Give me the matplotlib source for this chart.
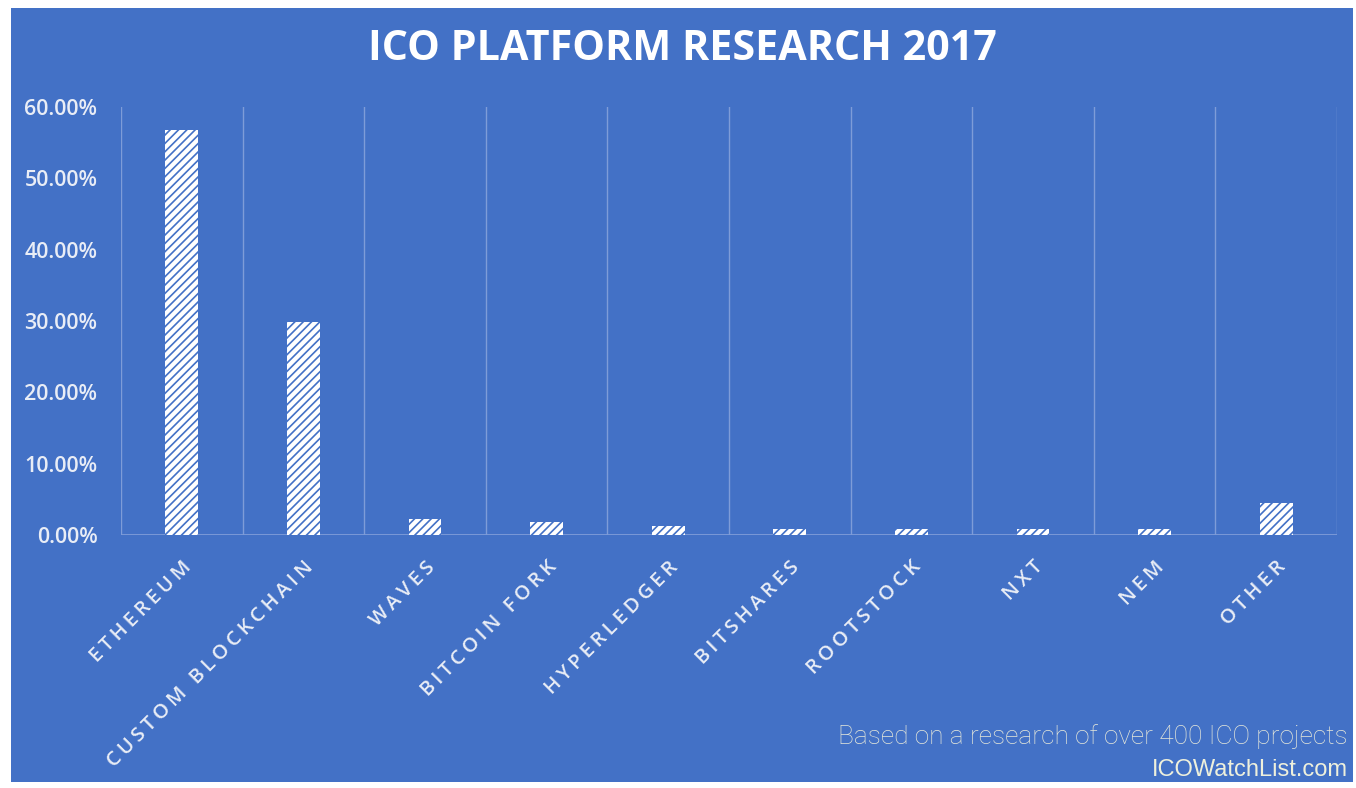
# ICO platform research bar chart, hatched white bars on blue panel

import matplotlib.pyplot as plt
import numpy as np
from matplotlib.patches import Rectangle
from matplotlib.ticker import PercentFormatter

platforms = ['ETHEREUM', 'CUSTOM BLOCKCHAIN', 'WAVES', 'BITCOIN FORK', 'HYPERLEDGER',
             'BITSHARES', 'ROOTSTOCK', 'NXT', 'NEM', 'OTHER']
share = [56.8, 29.9, 2.2, 1.8, 1.3, 0.8, 0.8, 0.8, 0.8, 4.5]
yticks = [0, 10, 20, 30, 40, 50, 60]

blue = '#4371C6'
grid_col = '#7E9CD8'
txt_col = '#E9EDF6'

plt.rcParams['hatch.color'] = blue
plt.rcParams['hatch.linewidth'] = 1.2

fig = plt.figure(figsize=(13.56, 7.88), dpi=100, facecolor='white')
fig.patches.append(Rectangle((11 / 1356, 6 / 788), 1342 / 1356, 774 / 788,
                             transform=fig.transFigure, facecolor=blue, edgecolor='none', zorder=0))

ax = fig.add_axes([121 / 1356, 1 - 535 / 788, (1337 - 121) / 1356, (535 - 107) / 788])
ax.set_facecolor('none')
ax.set_zorder(2)

x = np.arange(len(platforms))
ax.bar(x, share, width=0.27, color='white', edgecolor=blue, linewidth=0, hatch='////', zorder=3)

ax.set_xlim(-0.5, len(platforms) - 0.5)
ax.set_ylim(0, 60)
ax.set_yticks(yticks)
ax.yaxis.set_major_formatter(PercentFormatter(decimals=2))

# vertical gridlines between categories
for b in np.arange(-0.5, len(platforms), 1):
    ax.axvline(b, color=grid_col, lw=1, zorder=1)
ax.axhline(0, color=grid_col, lw=1.3, zorder=2)

for s in ax.spines.values():
    s.set_visible(False)
ax.tick_params(length=0)
ax.tick_params(axis='y', pad=17, labelsize=15.5, labelcolor=txt_col)

spaced = ['\u2009'.join(p) for p in platforms]
ax.set_xticks(x)
ax.set_xticklabels(spaced, rotation=45, ha='right', va='top', rotation_mode='anchor',
                   fontsize=14.5, fontweight='semibold', color=txt_col,
                   family=['Open Sans', 'DejaVu Sans'])
ax.tick_params(axis='x', pad=16)
for lab in ax.get_yticklabels():
    lab.set_family('Open Sans')
    lab.set_fontweight('semibold')

fig.text(0.503, 1 - 50 / 788, 'ICO PLATFORM RESEARCH 2017', ha='center', va='center',
         fontsize=29.7, fontweight='bold', color='white', family='Open Sans', zorder=5)
fig.text(1348 / 1356, 1 - 737 / 788, 'Based on a research of over 400 ICO projects',
         ha='right', va='center', fontsize=18.9, fontweight='light', color='#E6E8DA',
         family='Roboto', zorder=5)
fig.text(1348 / 1356, 1 - 770 / 788, 'ICOWatchList.com', ha='right', va='center',
         fontsize=17, color='#EEF0DC', family='Liberation Sans', zorder=5)

fig.savefig('out.png', dpi=100, facecolor='white')
